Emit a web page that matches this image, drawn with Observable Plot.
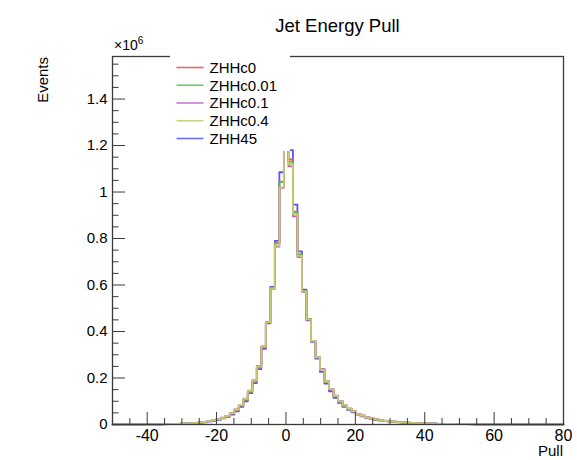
<!DOCTYPE html>
<html>
<head>
<meta charset="utf-8">
<script src="https://cdn.jsdelivr.net/npm/d3@7"></script>
<script src="https://cdn.jsdelivr.net/npm/@observablehq/plot@0.6"></script>
<style>
  html, body { margin: 0; padding: 0; background: #fff; }
  #wrap { position: relative; width: 577px; height: 460px; font-family: "Liberation Sans", Arial, Helvetica, sans-serif; }
  #wrap svg.overlay { position: absolute; left: 0; top: 0; pointer-events: none; }
</style>
</head>
<body>
<div id="wrap"></div>
<script>
// ---- Histogram definition (100 bins from -50 to 80) ----
const binLo = -50, binHi = 80, nBins = 100;

// Series names and colours
const seriesNames = ["ZHHc0", "ZHHc0.01", "ZHHc0.1", "ZHHc0.4", "ZHH45"];
const seriesColors = ["#e65050", "#55c055", "#c25fcf", "#c8c86e", "#5555f5"];

// Bin contents (events, in units of 10^6)
const zhhc0 = [0,0,0,0,0,0,0,0.0003,0.0005,0.0007,
 0.0010,0.0013,0.0016,0.0021,0.0027,0.0034,0.0044,0.0055,0.0068,0.0088,
 0.0112,0.0142,0.0182,0.0230,0.0285,0.0362,0.0478,0.0620,0.0815,0.1060,
 0.1410,0.1860,0.2460,0.3320,0.4380,0.5880,0.7800,1.0450,1.4800,1.1400,
 0.9160,0.7320,0.5750,0.4540,0.3600,0.2890,0.2390,0.1860,0.1510,0.1230,
 0.1010,0.0815,0.0680,0.0565,0.0460,0.0378,0.0308,0.0258,0.0218,0.0188,
 0.0158,0.0139,0.0119,0.0104,0.0089,0.0079,0.0069,0.0059,0.0051,0.0045,
 0.0040,0.0035,0.0030,0.0027,0.0023,0.0021,0.0018,0.0016,0.0014,0.0012,
 0.0010,0.0009,0.0008,0.0007,0.0006,0.0005,0.0004,0.0003,0.0003,0.0002,
 0.0002,0,0,0,0,0,0,0,0,0];
const zhhc001 = [0,0,0,0,0,0,0,0.0003,0.0005,0.0007,
 0.0010,0.0013,0.0016,0.0021,0.0027,0.0035,0.0044,0.0055,0.0069,0.0089,
 0.0113,0.0143,0.0183,0.0232,0.0287,0.0364,0.0482,0.0625,0.0820,0.1070,
 0.1420,0.1870,0.2470,0.3330,0.4390,0.5870,0.7790,1.0430,1.4800,1.1300,
 0.9140,0.7300,0.5740,0.4530,0.3590,0.2880,0.2370,0.1850,0.1520,0.1220,
 0.1000,0.0810,0.0675,0.0566,0.0458,0.0377,0.0309,0.0257,0.0219,0.0187,
 0.0159,0.0139,0.0119,0.0104,0.0089,0.0079,0.0069,0.0059,0.0051,0.0045,
 0.0040,0.0035,0.0030,0.0027,0.0024,0.0021,0.0018,0.0016,0.0014,0.0012,
 0.0010,0.0009,0.0008,0.0007,0.0006,0.0005,0.0004,0.0004,0.0003,0.0002,
 0.0002,0,0,0,0,0,0,0,0,0];
const zhhc01 = [0,0,0,0,0,0,0,0.0003,0.0005,0.0007,
 0.0010,0.0013,0.0017,0.0022,0.0028,0.0036,0.0045,0.0057,0.0071,0.0091,
 0.0116,0.0147,0.0187,0.0237,0.0292,0.0372,0.0494,0.0645,0.0845,0.1110,
 0.1460,0.1910,0.2520,0.3360,0.4410,0.5840,0.7650,1.0180,1.4700,1.1100,
 0.8950,0.7200,0.5700,0.4510,0.3600,0.2900,0.2390,0.1870,0.1520,0.1240,
 0.1010,0.0825,0.0685,0.0572,0.0462,0.0382,0.0312,0.0261,0.0221,0.0190,
 0.0161,0.0141,0.0121,0.0106,0.0091,0.0080,0.0070,0.0060,0.0052,0.0046,
 0.0041,0.0035,0.0031,0.0027,0.0024,0.0021,0.0018,0.0016,0.0014,0.0012,
 0.0010,0.0009,0.0008,0.0007,0.0006,0.0005,0.0004,0.0004,0.0003,0.0002,
 0.0002,0,0,0,0,0,0,0,0,0];
const zhhc04 = [0,0,0,0,0,0,0,0.0003,0.0005,0.0007,
 0.0010,0.0013,0.0017,0.0022,0.0028,0.0035,0.0045,0.0056,0.0070,0.0090,
 0.0115,0.0145,0.0185,0.0235,0.0290,0.0370,0.0490,0.0640,0.0840,0.1100,
 0.1450,0.1900,0.2500,0.3350,0.4400,0.5850,0.7700,1.0200,1.5000,1.1200,
 0.9050,0.7250,0.5720,0.4520,0.3600,0.2900,0.2360,0.1860,0.1520,0.1230,
 0.1000,0.0820,0.0680,0.0570,0.0460,0.0380,0.0310,0.0260,0.0220,0.0190,
 0.0160,0.0140,0.0120,0.0105,0.0090,0.0080,0.0070,0.0060,0.0052,0.0046,
 0.0040,0.0035,0.0030,0.0027,0.0024,0.0021,0.0018,0.0016,0.0014,0.0012,
 0.0010,0.0009,0.0008,0.0007,0.0006,0.0005,0.0004,0.0004,0.0003,0.0002,
 0.0002,0,0,0,0,0,0,0,0,0];
const zhh45 = [0,0,0,0,0,0,0,0.0002,0.0004,0.0006,
 0.0008,0.0011,0.0014,0.0018,0.0023,0.0029,0.0037,0.0047,0.0059,0.0076,
 0.0097,0.0124,0.0160,0.0205,0.0260,0.0330,0.0430,0.0570,0.0760,0.1000,
 0.1350,0.1780,0.2380,0.3250,0.4350,0.5920,0.7900,1.0850,1.5070,1.1800,
 0.9460,0.7450,0.5800,0.4480,0.3550,0.2830,0.2260,0.1760,0.1430,0.1150,
 0.0930,0.0760,0.0630,0.0520,0.0430,0.0350,0.0285,0.0238,0.0200,0.0172,
 0.0145,0.0127,0.0109,0.0095,0.0082,0.0072,0.0063,0.0054,0.0047,0.0041,
 0.0036,0.0032,0.0027,0.0024,0.0021,0.0019,0.0016,0.0014,0.0012,0.0011,
 0.0009,0.0008,0.0007,0.0006,0.0005,0.0004,0.0004,0.0003,0.0002,0.0002,
 0.0001,0,0,0,0,0,0,0,0,0];

// Axis ticks
const xMajorTicks = [-40, -20, 0, 20, 40, 60, 80];
const xMinorTicks = [-45,-35,-30,-25,-15,-10,-5,5,10,15,25,30,35,45,50,55,65,70,75];
const yMajorTicks = [0, 0.2, 0.4, 0.6, 0.8, 1, 1.2, 1.4];
const yMinorTicks = [0.05,0.1,0.15,0.25,0.3,0.35,0.45,0.5,0.55,0.65,0.7,0.75,0.85,0.9,0.95,1.05,1.1,1.15,1.25,1.3,1.35,1.45,1.5,1.55];
const yTop = 1.583;

const seriesValues = [zhhc0, zhhc001, zhhc01, zhhc04, zhh45];
const edges = d3.range(nBins + 1).map(i => binLo + (binHi - binLo) * i / nBins);
function histRows(name, vals) {
  return edges.map((x, i) => ({ x, y: i < vals.length ? vals[i] : 0, series: name }));
}
// draw order: ZHH45 first, ZHHc0.4 last (on top)
const drawOrder = [4, 0, 1, 2, 3];

const axisColor = "#3a3a3a";
const plot = Plot.plot({
  width: 577,
  height: 460,
  marginLeft: 112,
  marginRight: 14,
  marginTop: 56,
  marginBottom: 36,
  style: { fontFamily: '"Liberation Sans", Arial, Helvetica, sans-serif', fontSize: "15px", background: "#fff", color: "#000" },
  x: { domain: [binLo, binHi], axis: null },
  y: { domain: [0, yTop], axis: null },
  color: { domain: seriesNames, range: seriesColors },
  marks: [
    ...drawOrder.map(i => Plot.line(histRows(seriesNames[i], seriesValues[i]), {
      x: "x", y: "y", stroke: "series", strokeWidth: 1.8, curve: "step-after"
    })),
    Plot.axisX(xMajorTicks, { tickSize: -12, fill: "none", stroke: axisColor, label: null }),
    Plot.axisX(xMinorTicks, { tickSize: -6, fill: "none", stroke: axisColor, label: null }),
    Plot.axisX(xMajorTicks, { tickSize: 0, tickPadding: 5, tickFormat: d => String(d), fontSize: 16, label: null, fill: "#000" }),
    Plot.axisY(yMajorTicks, { tickSize: -13, fill: "none", stroke: axisColor, label: null }),
    Plot.axisY(yMinorTicks, { tickSize: -6.5, fill: "none", stroke: axisColor, label: null }),
    Plot.axisY(yMajorTicks, { tickSize: 0, tickPadding: 5, tickFormat: d => String(d), fontSize: 15, label: null, fill: "#000" }),
    Plot.frame({ stroke: axisColor, strokeWidth: 1.3 })
  ]
});

const wrap = document.getElementById("wrap");
wrap.appendChild(plot);

// Overlay: title, axis titles, exponent and legend box
const NS = "http://www.w3.org/2000/svg";
const ov = document.createElementNS(NS, "svg");
ov.setAttribute("class", "overlay");
ov.setAttribute("width", 577);
ov.setAttribute("height", 460);
ov.style.fontFamily = '"Liberation Sans", Arial, Helvetica, sans-serif';
function el(tag, attrs, text) {
  const e = document.createElementNS(NS, tag);
  for (const k in attrs) e.setAttribute(k, attrs[k]);
  if (text != null) e.textContent = text;
  ov.appendChild(e);
  return e;
}
el("text", { x: 337.5, y: 31.5, "text-anchor": "middle", "font-size": 18.5, fill: "#000" }, "Jet Energy Pull");
const ex = el("text", { x: 114, y: 50, "font-size": 14, fill: "#000" }, "×10");
const sup = document.createElementNS(NS, "tspan");
sup.setAttribute("dy", -6); sup.setAttribute("font-size", 10); sup.textContent = "6";
ex.appendChild(sup);
el("text", { transform: "translate(48,57) rotate(-90)", "text-anchor": "end", "font-size": 15, fill: "#000" }, "Events");
el("text", { x: 563, y: 456, "text-anchor": "end", "font-size": 15, fill: "#000" }, "Pull");

// legend
el("rect", { x: 170, y: 50, width: 120, height: 101, fill: "#fff" });
seriesNames.forEach((name, i) => {
  const yy = 67.5 + 17.75 * i;
  el("line", { x1: 176.5, x2: 203.5, y1: yy, y2: yy, stroke: seriesColors[i], "stroke-width": 1.6, "stroke-opacity": 0.85 });
  el("text", { x: 209.5, y: yy + 5.3, "font-size": 15, fill: "#000" }, name);
});
wrap.appendChild(ov);
</script>
</body>
</html>
